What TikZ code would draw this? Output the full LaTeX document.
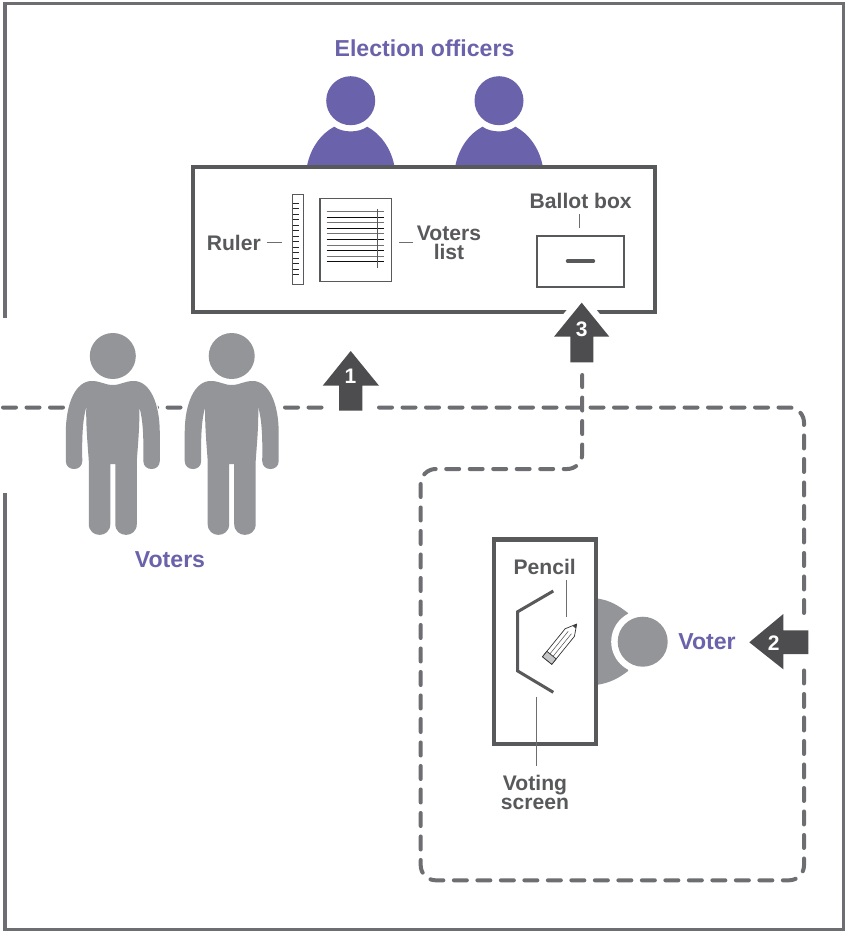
\documentclass[tikz,border=0pt]{standalone}
\usepackage{fontspec}
\setmainfont{Liberation Sans}
\definecolor{purp}{HTML}{6A62AA}
\definecolor{dark}{HTML}{58595B}
\definecolor{midg}{HTML}{6D6E71}
\definecolor{grayf}{HTML}{939598}
\definecolor{arrowc}{HTML}{4D4D4F}
\tikzset{x=1pt,y=-1pt,
 lbl/.style={font=\fontsize{21.1}{19}\selectfont\bfseries,text=dark,inner sep=0pt,align=center},
 plbl/.style={font=\fontsize{23.1}{22}\selectfont\bfseries,text=purp,inner sep=0pt},
 num/.style={font=\fontsize{21}{21}\selectfont\bfseries,text=white,inner sep=0pt},
 leader/.style={draw=midg,line width=1pt},
 route/.style={draw=midg,line width=4pt,dash pattern=on 13pt off 10.5pt,line cap=round},
 box/.style={draw=dark,line width=4.2pt,fill=white,inner sep=0pt,outer sep=0pt},
 thinbox/.style={draw=dark,line width=1.6pt,fill=white,inner sep=0pt,outer sep=0pt},
 bigarrow/.style={fill=arrowc,draw=none},
 halo/.style={draw=white,fill=white,line width=14pt,line join=miter},
 figure/.style={fill=grayf,preaction={draw=white,line width=2pt}}}
\newcommand{\person}[2]{%
 \begin{scope}[shift={(#1,#2)}]
 \path[figure] (0,-55) circle (23);
 \path[figure] (-21,-30) .. controls (-12,-30) and (-8,-26) .. (0,-26) .. controls (8,-26) and (12,-30) .. (21,-30)
  .. controls (37,-30) and (47,-8) .. (47,22) -- (47,50) .. controls (47,60.7) and (30.5,60.7) .. (30.5,50)
  .. controls (31,25) and (30,8) .. (26.5,-4) .. controls (27,15) and (25,35) .. (24,50) -- (24,113)
  .. controls (24,127.5) and (2.5,127.5) .. (2.5,113) -- (2.5,53) -- (-2.5,53) -- (-2.5,113)
  .. controls (-2.5,127.5) and (-24,127.5) .. (-24,113) -- (-24,50) .. controls (-25,35) and (-27,15) .. (-26.5,-4)
  .. controls (-30,8) and (-31,25) .. (-30.5,50) .. controls (-30.5,60.7) and (-47,60.7) .. (-47,50)
  -- (-47,22) .. controls (-47,-8) and (-37,-30) .. (-21,-30) -- cycle;
 \end{scope}}
\newcommand{\officer}[2]{%
 \begin{scope}[shift={(#1,#2)}]
 \fill[purp] (0,-64.3) circle (24.5);
 \fill[purp] (-43.5,0) .. controls (-40,-17) and (-30,-31) .. (-16.5,-38.3) .. controls (-8,-32) and (8,-32) .. (16.5,-38.3)
   .. controls (30,-31) and (40,-17) .. (43.5,0) -- cycle;
 \end{scope}}
\begin{document}
\begin{tikzpicture}
\useasboundingbox (0,0) rectangle (845,931);
\fill[white] (0,0) rectangle (845,931);
% frame
\draw[midg,line width=3.8pt] (5,318) -- (5,3.5) -- (843.5,3.5) -- (843.5,929.7) -- (5,929.7) -- (5,492.7);
% officers
\officer{350.7}{165}
\officer{499}{165}
\node[plbl] (officers) at (424.5,48) {Election officers};
% table
\node[box,minimum width=461.8pt,minimum height=144.7pt] (table) at (423.9,239.6) {};
% ruler
\node[draw=dark,line width=1.2pt,fill=white,inner sep=0pt,outer sep=0pt,minimum width=10.8pt,minimum height=90pt] (ruler) at (297.7,239.4) {};
\foreach \i in {0,...,13} \draw[black!85,line width=0.7pt] (292.7,203.3+5.5*\i) -- (299,203.3+5.5*\i);
% list
\node[thinbox,minimum width=71.5pt,minimum height=83pt] (list) at (355.6,239.8) {};
\foreach \i in {0,...,9} {\pgfmathsetmacro{\c}{mod(\i,2)==0?55:95}\draw[black!\c,line width=1pt] (326.7,211.7+5.55*\i) -- (384.3,211.7+5.55*\i);}
\draw[dark,line width=1.1pt] (377.7,209) -- (377.7,267.7);
% labels in the table
\node[lbl,anchor=east] (rulerl) at (261,243) {Ruler};
\coordinate (rl1) at (267.3,242.3); \coordinate (rl2) at (281.7,242.3);
\draw[leader] (rl1) -- (rl2);
\coordinate (vl1) at (399,242.3); \coordinate (vl2) at (413.3,242.3);
\draw[leader] (vl1) -- (vl2);
\node[lbl] (voters) at (449,242.5) {Voters\\list};
% ballot
\node[lbl] (ballot) at (580.7,200.7) {Ballot box};
\node[thinbox,minimum width=87pt,minimum height=50.5pt] (bbox) at (580.2,261.5) {};
\draw[dark,line width=3.4pt,line cap=round] (567.5,261) -- (593.5,261);
\coordinate (bl1) at (579.8,214.3);
\coordinate (bl2) at (579.8,228.3);
\draw[leader] (bl1) -- (bl2);
% route
\coordinate (r0) at (3,407.5);
\coordinate (r1) at (804,407.5);
\coordinate (r2) at (804,880.3);
\coordinate (r3) at (420.7,880.3);
\coordinate (r4) at (420.7,469);
\coordinate (r5) at (582.2,469);
\coordinate (r6) at (582.2,375);
\draw[route,rounded corners=15pt] (r0) -- (r1) -- (r2) -- (r3) -- (r4) -- (r5) -- (r6);
% voters
\person{112.8}{411}
\person{231.7}{411}
\node[plbl] (voterslbl) at (170,560) {Voters};
% arrow 1
\fill[white] (323.6,402) rectangle (376.4,413);
\fill[bigarrow] (339,410.7) -- (339,385.7) -- (322.7,385.7) -- (350.7,351) -- (379,385.7) -- (362.3,385.7) -- (362.3,410.7) -- cycle;
\node[num] (n1) at (350.5,376.5) {1};
% arrow 3
\path[halo] (570.3,362.3) -- (570.3,336.7) -- (554,336.7) -- (581.7,302.7) -- (609.3,336.7) -- (593.3,336.7) -- (593.3,362.3) -- cycle;
\fill[bigarrow] (570.3,362.3) -- (570.3,336.7) -- (554,336.7) -- (581.7,302.7) -- (609.3,336.7) -- (593.3,336.7) -- (593.3,362.3) -- cycle;
\node[num] (n3) at (581.7,329) {3};
% arrow 2
\fill[white] (799,615.5) rectangle (812,666.5);
\fill[bigarrow] (808.3,630.3) -- (783.3,630.3) -- (783.3,614) -- (749.3,642.3) -- (783.3,669.3) -- (783.3,654) -- (808.3,654) -- cycle;
\node[num] (n2) at (773.7,642.7) {2};
% seated voter
\fill[grayf] (596,598.3) .. controls (610,600) and (619,606) .. (628,613) -- (628,671) .. controls (619,678) and (610,683) .. (596,685) -- cycle;
\fill[white] (642.7,641.7) circle (31.5);
\fill[grayf] (642.7,641.7) circle (25);
\node[plbl] (voter) at (707,642) {Voter};
% booth
\node[box,minimum width=102pt,minimum height=204.3pt] (booth) at (544.8,641.7) {};
\draw[dark,line width=3pt,line join=miter] (553.3,591) -- (517.7,611.7) -- (517.7,671) -- (553.3,692.3);
\node[lbl] (pencil) at (544.7,566.7) {Pencil};
\coordinate (pl1) at (566,580); \coordinate (pl2) at (566,616.7);
\draw[leader] (pl1) -- (pl2);
% pencil
\begin{scope}[shift={(576.7,624)},rotate=51]
 \draw[black!80,line width=0.7pt,fill=white,line join=round] (-47,-6) -- (-11,-6) -- (0,0) -- (-11,6) -- (-47,6) -- cycle;
 \draw[black!70,line width=0.5pt] (-11,-2) -- (-40,-2) (-11,2) -- (-40,2);
 \fill[black!75] (0,0) -- (-4,-2.2) -- (-4,2.2) -- cycle;
 \filldraw[fill=grayf!55,draw=black!80,line width=0.7pt] (-47,-6) rectangle (-40,6);
\end{scope}
\coordinate (sl1) at (536,696.7); \coordinate (sl2) at (536,765.7);
\draw[leader] (sl1) -- (sl2);
\node[lbl] (screen) at (535,792.8) {Voting\\screen};
\end{tikzpicture}
\end{document}
